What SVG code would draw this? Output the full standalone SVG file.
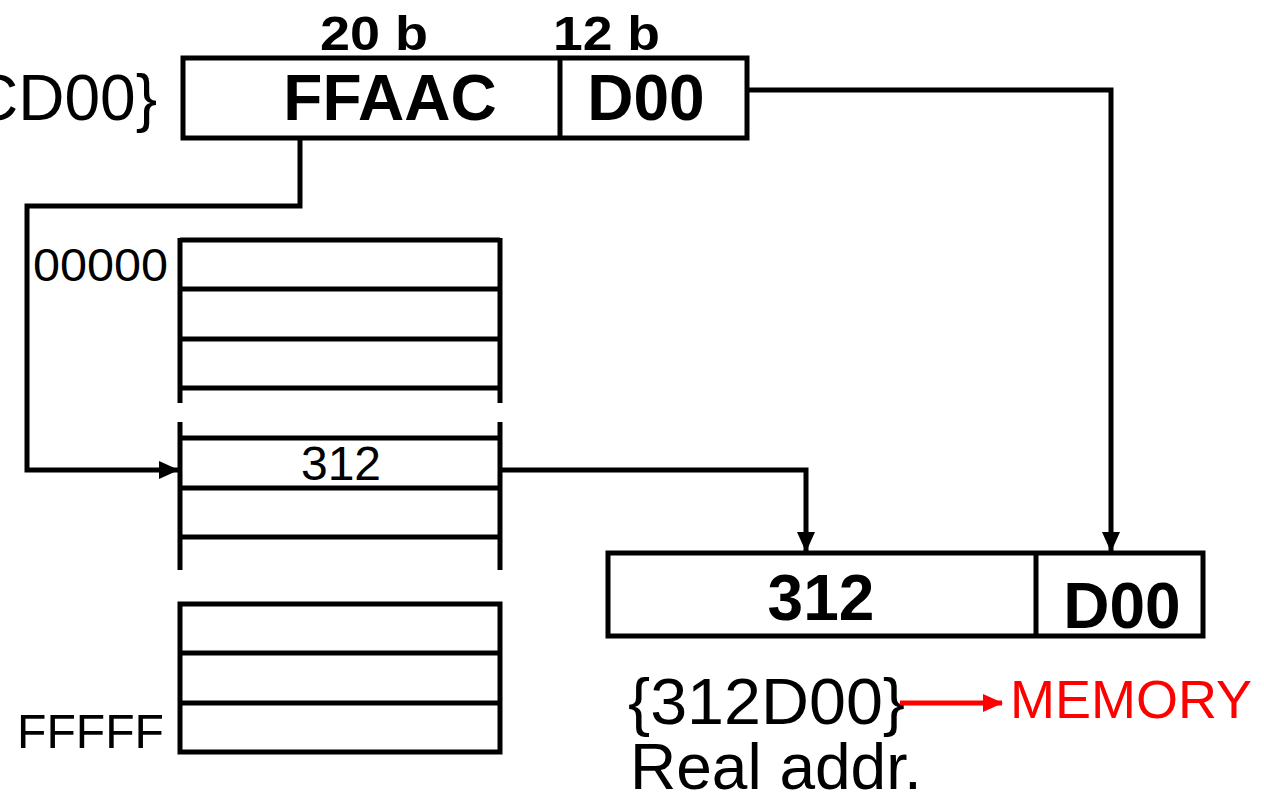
<svg xmlns="http://www.w3.org/2000/svg" width="1264" height="798" viewBox="0 0 1264 798">
<style>
.box{fill:#fff;stroke:#000;stroke-width:5}
.ln{stroke:#000;stroke-width:5;fill:none}
.conn{stroke:#000;stroke-width:5;fill:none}
.b{font-family:"Liberation Sans",Arial,sans-serif;font-weight:bold;fill:#000}
.r{font-family:"Liberation Sans",Arial,sans-serif;fill:#000}
</style>
<defs>
<marker id="ah" markerUnits="userSpaceOnUse" markerWidth="20" markerHeight="18" refX="19" refY="9" orient="auto">
<path d="M0,0 L20,9 L0,18 z" fill="#000"/>
</marker>
<marker id="ahr" markerUnits="userSpaceOnUse" markerWidth="20" markerHeight="18" refX="19" refY="9" orient="auto">
<path d="M0,0 L20,9 L0,18 z" fill="#f00"/>
</marker>
</defs>
<rect width="1264" height="798" fill="#fff"/>

<g id="virtual-address">
<text class="r" x="157" y="120" font-size="64" text-anchor="end">CD00}</text>
<rect class="box" x="183" y="58" width="564" height="80"/>
<line class="ln" x1="560" y1="58" x2="560" y2="140"/>
<text class="b" x="320" y="50" font-size="48" textLength="108" lengthAdjust="spacingAndGlyphs">20 b</text>
<text class="b" x="553" y="50" font-size="48" textLength="107" lengthAdjust="spacingAndGlyphs">12 b</text>
<text class="b" x="390" y="120" font-size="64" text-anchor="middle">FFAAC</text>
<text class="b" x="646" y="120" font-size="64" text-anchor="middle">D00</text>
</g>

<g id="page-table-top">
<line class="ln" x1="180" y1="238" x2="180" y2="403"/>
<line class="ln" x1="500" y1="238" x2="500" y2="403"/>
<line class="ln" x1="180" y1="240" x2="500" y2="240"/>
<line class="ln" x1="180" y1="289" x2="500" y2="289"/>
<line class="ln" x1="180" y1="339" x2="500" y2="339"/>
<line class="ln" x1="180" y1="388" x2="500" y2="388"/>
<text class="r" x="33" y="281" font-size="46" textLength="135" lengthAdjust="spacingAndGlyphs">00000</text>
</g>

<g id="page-table-middle">
<line class="ln" x1="180" y1="422" x2="180" y2="570"/>
<line class="ln" x1="500" y1="422" x2="500" y2="570"/>
<line class="ln" x1="180" y1="438" x2="500" y2="438"/>
<line class="ln" x1="180" y1="488" x2="500" y2="488"/>
<line class="ln" x1="180" y1="537" x2="500" y2="537"/>
<text class="r" x="341" y="480" font-size="48" text-anchor="middle">312</text>
</g>

<g id="page-table-bottom">
<rect class="box" x="180" y="604" width="320" height="148" fill="none"/>
<line class="ln" x1="180" y1="653" x2="500" y2="653"/>
<line class="ln" x1="180" y1="703" x2="500" y2="703"/>
<text class="r" x="17" y="748" font-size="48" textLength="147" lengthAdjust="spacingAndGlyphs">FFFFF</text>
</g>

<g id="real-address">
<rect class="box" x="608" y="553" width="595" height="83"/>
<line class="ln" x1="1036" y1="553" x2="1036" y2="636"/>
<text class="b" x="821" y="620" font-size="64" text-anchor="middle">312</text>
<text class="b" x="1122" y="628" font-size="64" text-anchor="middle">D00</text>
<text class="r" x="628" y="724" font-size="64" textLength="277" lengthAdjust="spacingAndGlyphs">{312D00}</text>
<text class="r" x="630" y="789" font-size="64">Real addr.</text>
</g>

<g id="memory">
<text x="1010" y="718" font-size="54" font-family="'Liberation Sans',Arial,sans-serif" fill="#f00">MEMORY</text>
</g>

<g id="connectors">
<path class="conn" d="M300,140 V206 H27 V470 H178" marker-end="url(#ah)"/>
<path class="conn" d="M748,90 H1111 V551" marker-end="url(#ah)"/>
<path class="conn" d="M500,470 H806 V551" marker-end="url(#ah)"/>
<path d="M900,703 H1002" stroke="#f00" stroke-width="5" fill="none" marker-end="url(#ahr)"/>
</g>
</svg>
